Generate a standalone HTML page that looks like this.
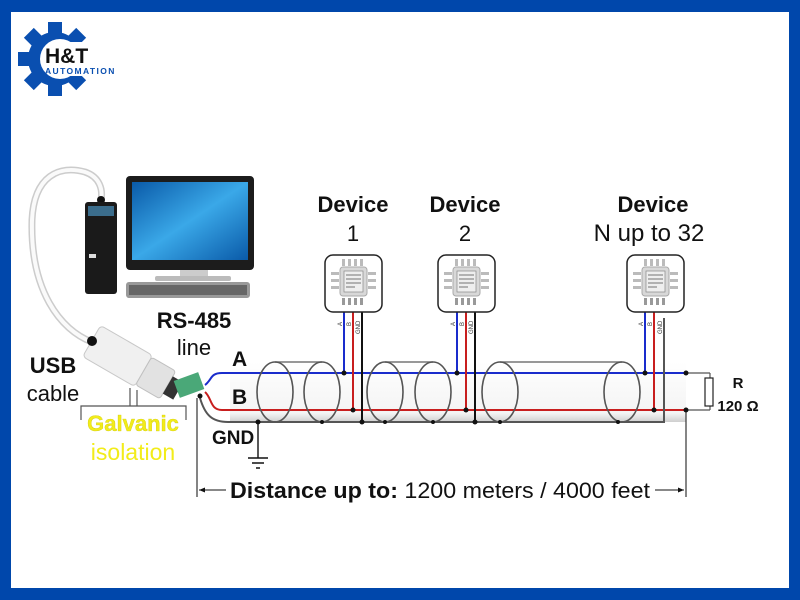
<!DOCTYPE html>
<html><head><meta charset="utf-8"><style>
html,body{margin:0;padding:0;}
body{width:800px;height:600px;overflow:hidden;background:#0047ab;}
svg{display:block;font-family:"Liberation Sans",Arial,sans-serif;}
</style></head><body>
<svg width="800" height="600" viewBox="0 0 800 600" xmlns="http://www.w3.org/2000/svg">
<defs>
<linearGradient id="scr" x1="0" y1="0" x2="1" y2="1"><stop offset="0" stop-color="#0a5aa8"/><stop offset="0.5" stop-color="#3aa8e8"/><stop offset="1" stop-color="#0a5aa8"/></linearGradient>
<linearGradient id="tube" x1="0" y1="0" x2="0" y2="1"><stop offset="0" stop-color="#fff"/><stop offset="0.85" stop-color="#f4f4f4"/><stop offset="1" stop-color="#cfcfcf"/></linearGradient>
<g id="chip">
<rect x="0" y="0" width="57" height="57" rx="8" fill="#fff" stroke="#222" stroke-width="1.5"/>
<rect x="15" y="12" width="27" height="29" rx="3" fill="#d8d8d8" stroke="#aaa"/>
<rect x="19" y="16" width="19" height="21" fill="#eee" stroke="#888" stroke-width="0.7"/>
<g fill="#bbb"><rect x="17" y="4" width="3" height="7"/><rect x="23" y="4" width="3" height="7"/><rect x="29" y="4" width="3" height="7"/><rect x="35" y="4" width="3" height="7"/>
<rect x="17" y="43" width="3" height="7" fill="#999"/><rect x="23" y="43" width="3" height="7" fill="#999"/><rect x="29" y="43" width="3" height="7" fill="#999"/><rect x="35" y="43" width="3" height="7" fill="#999"/>
<rect x="6" y="17" width="8" height="3"/><rect x="6" y="24" width="8" height="3"/><rect x="6" y="31" width="8" height="3"/>
<rect x="43" y="17" width="8" height="3"/><rect x="43" y="24" width="8" height="3"/><rect x="43" y="31" width="8" height="3"/></g>
<g stroke="#555" stroke-width="0.8"><line x1="21" y1="20" x2="36" y2="20"/><line x1="21" y1="24" x2="36" y2="24"/><line x1="21" y1="28" x2="36" y2="28"/><line x1="21" y1="32" x2="30" y2="32"/></g>
</g>
</defs>
<rect x="11" y="12" width="778" height="576" fill="#fff"/>

<!-- logo gear -->
<g fill="#0a4fb0" transform="translate(55,59)">
<circle r="27"/>
<rect x="-7" y="-37" width="14" height="12"/>
<rect x="-7" y="-37" width="14" height="12" transform="rotate(45)"/>
<rect x="-7" y="-37" width="14" height="12" transform="rotate(135)"/>
<rect x="-7" y="-37" width="14" height="12" transform="rotate(180)"/>
<rect x="-7" y="-37" width="14" height="12" transform="rotate(225)"/>
<rect x="-7" y="-37" width="14" height="12" transform="rotate(270)"/>
<rect x="-7" y="-37" width="14" height="12" transform="rotate(315)"/>
</g>
<circle cx="60" cy="59" r="20" fill="#fff"/>
<rect x="60" y="42" width="30" height="34" fill="#fff"/>
<text x="45" y="63" font-size="21" font-weight="bold" fill="#111">H&amp;T</text>
<text x="45" y="74" font-size="8.5" font-weight="bold" fill="#0a4fb0" letter-spacing="1.4">AUTOMATION</text>

<!-- usb cable -->
<path d="M92 342 C60 330 30 290 32 220 C34 175 60 165 85 172 C100 177 103 190 101 200" fill="none" stroke="#ccc" stroke-width="7"/>
<path d="M92 342 C60 330 30 290 32 220 C34 175 60 165 85 172 C100 177 103 190 101 200" fill="none" stroke="#fafafa" stroke-width="4"/>
<circle cx="101" cy="200" r="4" fill="#111"/>
<!-- tower -->
<rect x="85" y="202" width="32" height="92" rx="3" fill="#1a1a1a"/>
<rect x="88" y="206" width="26" height="10" fill="#3b6d8c"/>
<rect x="89" y="254" width="7" height="4" fill="#ddd"/>
<!-- monitor -->
<rect x="126" y="176" width="128" height="94" rx="4" fill="#1c1c1c"/>
<rect x="132" y="182" width="116" height="78" fill="url(#scr)"/>
<rect x="180" y="270" width="28" height="8" fill="#ccc"/>
<rect x="155" y="276" width="76" height="5" rx="2" fill="#bbb"/>
<rect x="126" y="282" width="124" height="16" rx="3" fill="#999"/>
<rect x="129" y="285" width="118" height="10" fill="#666"/>
<!-- converter -->
<g transform="translate(128,362) rotate(30)">
<rect x="-42" y="-18" width="60" height="36" rx="4" fill="#f0f0f0" stroke="#c8c8c8"/>
<rect x="18" y="-16" width="28" height="32" rx="3" fill="#e2e2e2" stroke="#c0c0c0"/>
<rect x="46" y="-10" width="12" height="20" fill="#333"/>
</g>
<circle cx="92" cy="341" r="5" fill="#111"/>
<rect x="176" y="376" width="26" height="18" fill="#4aa878" transform="rotate(-20 189 385)"/>
<!-- galvanic bracket -->
<path d="M81 420 V406 H186 V420" fill="none" stroke="#555" stroke-width="1.2"/>
<path d="M130 406 V388 M137 406 V390" stroke="#555" stroke-width="1.2"/>
<text x="133" y="431" font-size="22" font-weight="bold" fill="#f2ec1a" text-anchor="middle" stroke="#c8c200" stroke-width="0.3">Galvanic</text>
<text x="133" y="460" font-size="23" fill="#f2ec1a" text-anchor="middle">isolation</text>
<text x="53" y="373" font-size="22" font-weight="bold" fill="#111" text-anchor="middle">USB</text>
<text x="53" y="401" font-size="22" fill="#111" text-anchor="middle">cable</text>
<text x="194" y="328" font-size="22" font-weight="bold" fill="#111" text-anchor="middle">RS-485</text>
<text x="194" y="355" font-size="22" fill="#111" text-anchor="middle">line</text>

<!-- cable tube -->
<rect x="230" y="362" width="456" height="60" fill="url(#tube)"/>
<path d="M275 362 H322 M385 362 H433 M500 362 H622" stroke="#777" stroke-width="1.5"/>
<!-- wires -->
<path d="M205 385 C212 380 210 373 222 373 H686" fill="none" stroke="#1a2ccc" stroke-width="2"/>
<path d="M205 392 C212 398 210 410 222 410 H686" fill="none" stroke="#c81e1e" stroke-width="2"/>
<path d="M200 398 C205 415 212 422 228 422 H664 V318" fill="none" stroke="#555" stroke-width="2"/>
<path d="M686 373 H710 M686 410 H710 M710 373 V378 M710 405 V410" fill="none" stroke="#555" stroke-width="1.2"/>
<rect x="705" y="378" width="8" height="28" fill="#fff" stroke="#222" stroke-width="1.2"/>
<path d="M686 410 V497" stroke="#333" stroke-width="1.2"/>
<!-- ellipses -->
<g fill="none" stroke="#555" stroke-width="1.6">
<ellipse cx="275" cy="392" rx="18" ry="30"/><ellipse cx="322" cy="392" rx="18" ry="30"/>
<ellipse cx="385" cy="392" rx="18" ry="30"/><ellipse cx="433" cy="392" rx="18" ry="30"/>
<ellipse cx="500" cy="392" rx="18" ry="30"/><ellipse cx="622" cy="392" rx="18" ry="30"/>
</g>
<!-- device drops -->
<g stroke-width="2" fill="none">
<path d="M344 312 V373 M457 312 V373 M645 312 V373" stroke="#1a2ccc"/>
<path d="M353 312 V410 M466 312 V410 M654 312 V410" stroke="#c81e1e"/>
<path d="M362 312 V422 M475 312 V422" stroke="#111"/>
</g>
<g fill="#111">
<circle cx="344" cy="373" r="2.5"/><circle cx="457" cy="373" r="2.5"/><circle cx="645" cy="373" r="2.5"/><circle cx="686" cy="373" r="2.5"/>
<circle cx="353" cy="410" r="2.5"/><circle cx="466" cy="410" r="2.5"/><circle cx="654" cy="410" r="2.5"/><circle cx="686" cy="410" r="2.5"/>
<circle cx="362" cy="422" r="2.5"/><circle cx="475" cy="422" r="2.5"/><circle cx="258" cy="422" r="2.5"/>
<circle cx="322" cy="422" r="2"/><circle cx="385" cy="422" r="2"/><circle cx="433" cy="422" r="2"/><circle cx="500" cy="422" r="2"/><circle cx="618" cy="422" r="2"/>
<circle cx="200" cy="396" r="2.5"/>
</g>
<g font-size="6" fill="#333">
<text transform="translate(342,326) rotate(-90)">A</text><text transform="translate(351,326) rotate(-90)">B</text><text transform="translate(360,334) rotate(-90)">GND</text>
<text transform="translate(455,326) rotate(-90)">A</text><text transform="translate(464,326) rotate(-90)">B</text><text transform="translate(473,334) rotate(-90)">GND</text>
<text transform="translate(643,326) rotate(-90)">A</text><text transform="translate(652,326) rotate(-90)">B</text><text transform="translate(662,334) rotate(-90)">GND</text>
</g>
<use href="#chip" x="325" y="255"/><use href="#chip" x="438" y="255"/><use href="#chip" x="627" y="255"/>
<g font-size="22" fill="#111" text-anchor="middle">
<text x="353" y="212" font-weight="bold">Device</text><text x="353" y="241">1</text>
<text x="465" y="212" font-weight="bold">Device</text><text x="465" y="241">2</text>
<text x="653" y="212" font-weight="bold">Device</text><text x="649" y="241" font-size="24">N up to 32</text>
</g>
<text x="738" y="388" font-size="15" font-weight="bold" fill="#111" text-anchor="middle">R</text>
<text x="738" y="411" font-size="15" font-weight="bold" fill="#111" text-anchor="middle">120 Ω</text>
<text x="232" y="366" font-size="21" font-weight="bold" fill="#111">A</text>
<text x="232" y="404" font-size="21" font-weight="bold" fill="#111">B</text>
<text x="212" y="444" font-size="19" font-weight="bold" fill="#111">GND</text>
<!-- ground -->
<path d="M258 422 V458 M248 458 H268 M252 463 H264 M256 468 H260" stroke="#111" stroke-width="1.4"/>
<!-- distance -->
<path d="M197 398 V497" stroke="#333" stroke-width="1.2"/>
<path d="M199 490 H226 M655 490 H684" stroke="#111" stroke-width="1"/>
<path d="M199 490 l6-2.5 v5 z M684 490 l-6-2.5 v5 z" fill="#111"/>
<text x="230" y="498" font-size="22" fill="#111" textLength="420" lengthAdjust="spacingAndGlyphs"><tspan font-weight="bold">Distance up to:</tspan> 1200 meters / 4000 feet</text>
</svg>
</body></html>
